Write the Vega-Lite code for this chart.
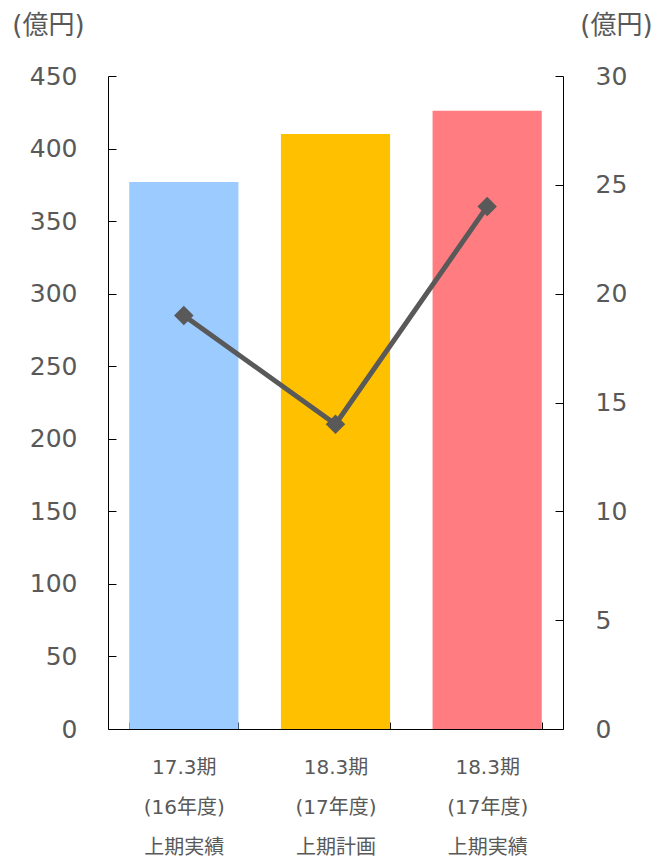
{
  "$schema": "https://vega.github.io/schema/vega-lite/v6.json",
  "width": 455,
  "height": 653,
  "autosize": "none",
  "padding": {"left": 108, "top": 76, "right": 94, "bottom": 129},
  "config": {
    "font": "DejaVu Sans, Noto Sans CJK JP",
    "view": {"stroke": null},
    "axis": {
      "grid": false,
      "domainColor": "#000000",
      "tickColor": "#000000",
      "labelColor": "#595959",
      "titleColor": "#595959",
      "titleFontWeight": "normal"
    }
  },
  "data": {
    "values": [
      {"cat": "17.3期|(16年度)|上期実績", "sales": 377, "profit": 19, "col": "a"},
      {"cat": "18.3期|(17年度)|上期計画", "sales": 410, "profit": 14, "col": "b"},
      {"cat": "18.3期|(17年度)|上期実績", "sales": 426, "profit": 24, "col": "c"}
    ]
  },
  "encoding": {
    "x": {
      "field": "cat",
      "type": "nominal",
      "sort": null,
      "scale": {"paddingInner": 0.28, "paddingOuter": 0.14},
      "axis": {
        "title": null,
        "labelAngle": 0,
        "labelExpr": "split(datum.label, '|')",
        "labelFontSize": 20,
        "labelLineHeight": 40,
        "labelPadding": 35,
        "tickSize": -7,
        "tickBand": "extent",
        "labelBaseline": "top"
      }
    }
  },
  "layer": [
    {
      "mark": {"type": "bar"},
      "encoding": {
        "y": {
          "field": "sales",
          "type": "quantitative",
          "scale": {"domain": [0, 450], "nice": false},
          "axis": {
            "orient": "left",
            "values": [0, 50, 100, 150, 200, 250, 300, 350, 400, 450],
            "title": "(億円)",
            "titleAngle": 0,
            "titleAlign": "center",
            "titleBaseline": "middle",
            "titleX": -60,
            "titleY": -51,
            "titleFontSize": 26,
            "labelFontSize": 25,
            "labelPadding": 39,
            "tickSize": -8
          }
        },
        "color": {
          "field": "col",
          "type": "nominal",
          "scale": {"domain": ["a", "b", "c"], "range": ["#9BCBFF", "#FFC000", "#FF7C80"]},
          "legend": null
        }
      }
    },
    {
      "mark": {"type": "line", "color": "#595959", "strokeWidth": 5, "point": {"shape": "diamond", "size": 380, "color": "#595959", "filled": true, "opacity": 1}},
      "encoding": {
        "y": {
          "field": "profit",
          "type": "quantitative",
          "scale": {"domain": [0, 30], "nice": false},
          "axis": {
            "orient": "right",
            "values": [0, 5, 10, 15, 20, 25, 30],
            "title": "(億円)",
            "titleAngle": 0,
            "titleAlign": "center",
            "titleBaseline": "middle",
            "titleX": 53,
            "titleY": -51,
            "titleFontSize": 26,
            "labelFontSize": 25,
            "labelPadding": 40,
            "tickSize": -8
          }
        }
      }
    }
  ],
  "resolve": {"scale": {"y": "independent"}}
}
